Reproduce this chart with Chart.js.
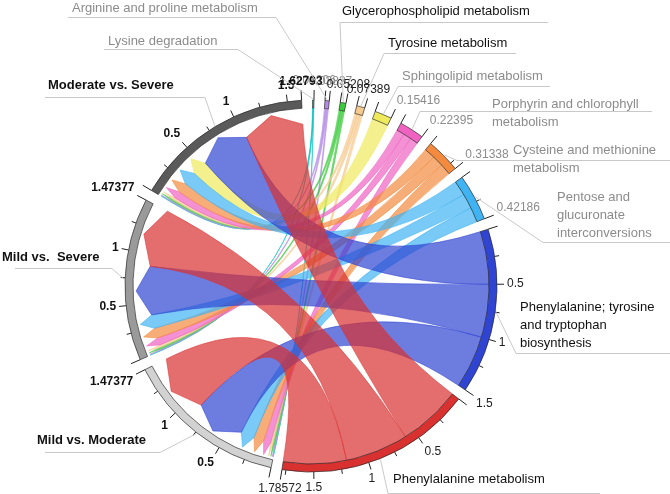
<!DOCTYPE html>
<html>
<head>
<meta charset="utf-8">
<script src="https://cdn.jsdelivr.net/npm/chart.js@4.4.1/dist/chart.umd.min.js"></script>
<style>
  html, body { margin: 0; padding: 0; background: #fff; }
  canvas { display: block; }
</style>
</head>
<body>
<canvas id="chord" width="670" height="494"></canvas>
<script>
// pathways (coloured sectors), clockwise from the top
const pathways = [
  'Lysine degradation',
  'Arginine and proline metabolism',
  'Glycerophospholipid metabolism',
  'Tyrosine metabolism',
  'Sphingolipid metabolism',
  'Porphyrin and chlorophyll metabolism',
  'Cysteine and methionine metabolism',
  'Pentose and glucuronate interconversions',
  'Phenylalanine; tyrosine and tryptophan biosynthesis',
  'Phenylalanine metabolism'
];
// comparisons (grey sectors), clockwise after the pathways
const comparisons = ['Mild vs. Moderate', 'Mild vs.  Severe', 'Moderate vs. Severe'];

// link weight of each pathway in each comparison (same order as pathways)
const mildVsModerate   = [0.00402, 0.01279, 0.01736, 0.02463, 0,       0.07465, 0.10446, 0.14062, 0.5, 0.59524];
const mildVsSevere     = [0.00402, 0.01279, 0.01736, 0.02463, 0,       0.07465, 0.10446, 0.14062, 0.5, 0.59524];
const moderateVsSevere = [0.00402, 0.01279, 0.01736, 0.02463, 0.15416, 0.07465, 0.10446, 0.14062, 0.5, 0.59524];

const tickStep = 0.25;
const tickLabelStep = 0.5;

const links = [mildVsModerate, mildVsSevere, moderateVsSevere];
const pathwayTotals = pathways.map((_, j) => links.reduce((s, row) => s + row[j], 0));
const comparisonTotals = links.map(row => row.reduce((s, v) => s + v, 0));
const sectorTotals = pathwayTotals.concat(comparisonTotals);
const nP = pathways.length;

const pathwayColors = ['#14c3c3', '#b48be6', '#3ccb3c', '#f6c98e', '#eeea5c', '#f062c2',
                       '#f48a3e', '#40b3f2', '#2f44d2', '#d93030'];
const comparisonColors = ['#d2d2d2', '#9a9a9a', '#5a5a5a'];
const sectorColors = pathwayColors.concat(comparisonColors);

// label styling / placement (layout only)
const GREY = '#8c8c8c', BLACK = '#111';
const nameLayout = [
  { lines: ['Lysine degradation'], x: 108, y: 41, tone: GREY, uy: 49, ux1: 104, ux2: 238, ex: 238 },
  { lines: ['Arginine and proline metabolism'], x: 72, y: 8, tone: GREY, uy: 17, ux1: 68, ux2: 276, ex: 276 },
  { lines: ['Glycerophospholipid metabolism'], x: 342, y: 11, tone: BLACK, uy: 22, ux1: 340, ux2: 548, ex: 340 },
  { lines: ['Tyrosine metabolism'], x: 388, y: 43, tone: BLACK, uy: 53, ux1: 384, ux2: 516, ex: 384 },
  { lines: ['Sphingolipid metabolism'], x: 402, y: 76, tone: GREY, uy: 86, ux1: 398, ux2: 550, ex: 398 },
  { lines: ['Porphyrin and chlorophyll', 'metabolism'], x: 492, y: 104, tone: GREY, uy: 111, ux1: 420, ux2: 652, ex: 420 },
  { lines: ['Cysteine and methionine', 'metabolism'], x: 513, y: 150, tone: GREY, uy: 160, ux1: 457, ux2: 670, ex: 457 },
  { lines: ['Pentose and', 'glucuronate', 'interconversions'], x: 557, y: 197, tone: GREY, uy: 242, ux1: 543, ux2: 670, ex: 543 },
  { lines: ['Phenylalanine; tyrosine', 'and tryptophan', 'biosynthesis'], x: 520, y: 307, tone: BLACK, uy: 353, ux1: 516, ux2: 670, ex: 516 },
  { lines: ['Phenylalanine metabolism'], x: 393, y: 479, tone: BLACK, uy: 493, ux1: 388, ux2: 600, ex: 388 },
  { lines: ['Mild vs. Moderate'], x: 37, y: 440, tone: BLACK, bold: true, uy: 452, ux1: 45, ux2: 160, ex: 160 },
  { lines: ['Mild vs.  Severe'], x: 2, y: 257, tone: BLACK, bold: true, uy: 268, ux1: 15, ux2: 112, ex: 112 },
  { lines: ['Moderate vs. Severe'], x: 48, y: 85, tone: BLACK, bold: true, uy: 97, ux1: 45, ux2: 205, ex: 205 }
];

const FONT = '"Liberation Sans", Arial, sans-serif';
const gapDeg = 3.4;
const grand = sectorTotals.reduce((s, v) => s + v, 0);
const gapValue = grand * gapDeg / (360 - sectorTotals.length * gapDeg);

const values = [], bg = [], bw = [], labels = [];
sectorTotals.forEach((t, i) => {
  values.push(t, gapValue);
  bg.push(sectorColors[i], 'rgba(0,0,0,0)');
  bw.push(0.8, 0);
  labels.push(i < nP ? pathways[i] : comparisons[i - nP], '');
});

function rgba(hex, a) {
  const n = parseInt(hex.slice(1), 16);
  return 'rgba(' + (n >> 16) + ',' + ((n >> 8) & 255) + ',' + (n & 255) + ',' + a + ')';
}
function fmt(v) { return String(Number(v.toFixed(5))); }

const chordPlugin = {
  id: 'chord',
  beforeDatasetsDraw(chart) {
    const ctx = chart.ctx;
    const arcs = chart.getDatasetMeta(0).data;
    const sec = i => arcs[2 * i];
    const cx = arcs[0].x, cy = arcs[0].y;
    const rIn = arcs[0].innerRadius;
    const big = sec(nP - 1);
    const unit = (big.endAngle - big.startAngle) / sectorTotals[nP - 1];
    const P = (r, a) => [cx + r * Math.cos(a), cy + r * Math.sin(a)];

    // positions on the grey sectors: ascending by weight
    const greyPos = {};
    links.forEach((row, c) => {
      let a = sec(nP + c).startAngle;
      row.map((v, p) => [v, p]).filter(d => d[0] > 0).sort((x, y) => x[0] - y[0]).forEach(([v, p]) => {
        greyPos[c + '_' + p] = [a, a + v * unit];
        a += v * unit;
      });
    });
    // positions on the pathway sectors
    const colPos = {};
    pathways.forEach((_, p) => {
      let b = sec(p).startAngle;
      [2, 1, 0].forEach(c => {
        const v = links[c][p];
        if (v <= 0) return;
        colPos[c + '_' + p] = [b, b + v * unit];
        b += v * unit;
      });
    });

    const rEnd = rIn - 16, rTip = rIn - 3;
    ctx.save();
    pathways.forEach((_, p) => {
      [2, 1, 0].forEach(c => {
        const key = c + '_' + p;
        if (!colPos[key]) return;
        const [b1, b2] = colPos[key];
        const [a1, a2] = greyPos[key];
        ctx.beginPath();
        ctx.arc(cx, cy, rIn, b1, b2);
        const q1 = P(rEnd, a1);
        ctx.quadraticCurveTo(cx, cy, q1[0], q1[1]);
        const t = P(rTip, (a1 + a2) / 2);
        ctx.lineTo(t[0], t[1]);
        const q2 = P(rEnd, a2);
        ctx.lineTo(q2[0], q2[1]);
        const q3 = P(rIn, b1);
        ctx.quadraticCurveTo(cx, cy, q3[0], q3[1]);
        ctx.closePath();
        ctx.fillStyle = rgba(pathwayColors[p], 0.7);
        ctx.fill();
        ctx.lineWidth = 0.6;
        ctx.strokeStyle = rgba(pathwayColors[p], 0.9);
        ctx.stroke();
      });
    });
    ctx.restore();
  },
  afterDatasetsDraw(chart) {
    const ctx = chart.ctx;
    const arcs = chart.getDatasetMeta(0).data;
    const sec = i => arcs[2 * i];
    const cx = arcs[0].x, cy = arcs[0].y;
    const rOut = arcs[0].outerRadius;
    const P = (r, a) => [cx + r * Math.cos(a), cy + r * Math.sin(a)];
    ctx.save();

    // ticks and tick labels
    sectorTotals.forEach((T, i) => {
      const el = sec(i);
      const unit = (el.endAngle - el.startAngle) / T;
      const isGrey = i >= nP;
      const tone = isGrey ? BLACK : (nameLayout[i].tone === GREY ? GREY : '#222');
      const ticks = [];
      for (let k = 0; k * tickStep < T - 0.02; k++) {
        const v = k * tickStep;
        const major = k > 0 && Math.abs(v / tickLabelStep - Math.round(v / tickLabelStep)) < 1e-9;
        ticks.push({ v, len: k === 0 ? 10 : (major ? 7 : 4.5), label: major ? fmt(v) : null });
      }
      ticks.push({ v: T, len: 10, label: fmt(T) });
      ticks.forEach(tk => {
        const a = el.startAngle + tk.v * unit;
        const p1 = P(rOut, a), p2 = P(rOut + tk.len, a);
        ctx.beginPath();
        ctx.moveTo(p1[0], p1[1]);
        ctx.lineTo(p2[0], p2[1]);
        ctx.strokeStyle = '#222';
        ctx.lineWidth = 1;
        ctx.stroke();
        if (tk.label) {
          const c = Math.cos(a), s = Math.sin(a);
          const lp = P(rOut + tk.len + 3, a);
          ctx.font = (isGrey ? 'bold ' : '') + '12px ' + FONT;
          ctx.fillStyle = tone;
          ctx.textAlign = c > 0.35 ? 'left' : (c < -0.35 ? 'right' : 'center');
          ctx.textBaseline = s > 0.35 ? 'top' : (s < -0.35 ? 'bottom' : 'middle');
          ctx.fillText(tk.label, lp[0], lp[1]);
        }
      });
    });

    // names with leader lines
    nameLayout.forEach((L, i) => {
      const el = sec(i);
      const mid = (el.startAngle + el.endAngle) / 2;
      const end = P(rOut + 1, mid);
      ctx.strokeStyle = '#c9c9c9';
      ctx.lineWidth = 1;
      ctx.beginPath();
      ctx.moveTo(L.ux1, L.uy + 0.5);
      ctx.lineTo(L.ux2, L.uy + 0.5);
      ctx.stroke();
      ctx.beginPath();
      ctx.moveTo(L.ex, L.uy + 0.5);
      ctx.lineTo(end[0], end[1]);
      ctx.stroke();
      ctx.font = (L.bold ? 'bold 13px ' : '13px ') + FONT;
      ctx.fillStyle = L.tone;
      ctx.textAlign = 'left';
      ctx.textBaseline = 'middle';
      L.lines.forEach((t, k) => ctx.fillText(t, L.x, L.y + k * 18));
    });
    ctx.restore();
  }
};

new Chart(document.getElementById('chord'), {
  type: 'doughnut',
  data: {
    labels: labels,
    datasets: [{
      data: values,
      backgroundColor: bg,
      borderColor: 'rgba(40,40,40,0.85)',
      borderWidth: bw
    }]
  },
  options: {
    responsive: false,
    animation: false,
    events: [],
    rotation: 0.5,
    radius: 186,
    cutout: (178 / 186 * 100) + '%',
    layout: { padding: { left: 0, right: 48, top: 78, bottom: 0 } },
    plugins: { legend: { display: false }, tooltip: { enabled: false } }
  },
  plugins: [chordPlugin]
});
</script>
</body>
</html>
